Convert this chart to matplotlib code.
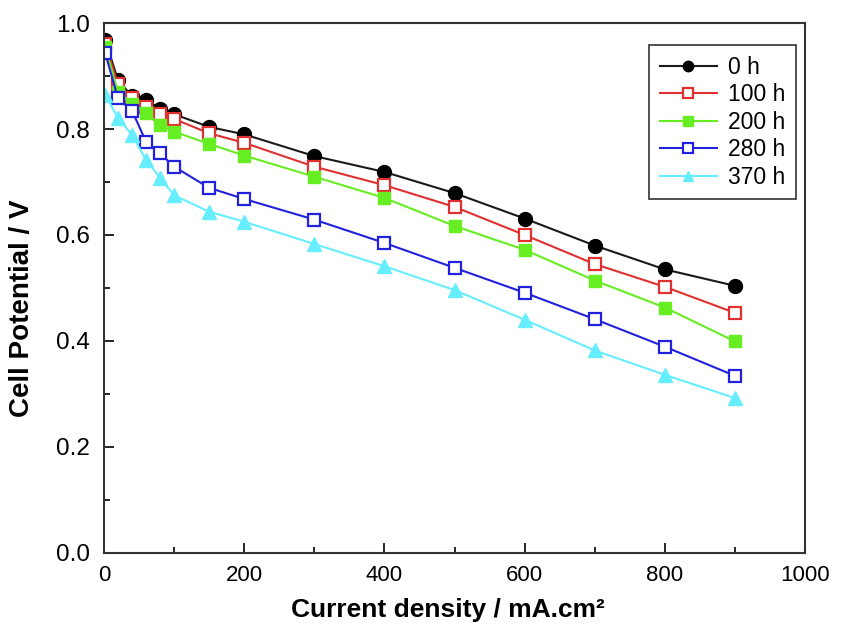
import matplotlib
matplotlib.use("Agg")
import matplotlib.pyplot as plt
from matplotlib.ticker import MultipleLocator

plt.rcParams['font.family'] = ['Liberation Sans', 'DejaVu Sans']

# current density (mA/cm2)
current = [2, 20, 40, 60, 80, 100, 150, 200, 300, 400, 500, 600, 700, 800, 900]

# cell potential (V) for each ageing time
v_0h = [0.968, 0.892, 0.862, 0.855, 0.838, 0.828, 0.804, 0.790, 0.749, 0.719, 0.679, 0.631, 0.580, 0.535, 0.504]
v_100h = [0.960, 0.885, 0.858, 0.842, 0.828, 0.819, 0.792, 0.774, 0.729, 0.694, 0.653, 0.600, 0.545, 0.502, 0.453]
v_200h = [0.955, 0.870, 0.848, 0.831, 0.808, 0.795, 0.772, 0.750, 0.710, 0.670, 0.617, 0.572, 0.514, 0.463, 0.399]
v_280h = [0.943, 0.858, 0.835, 0.776, 0.754, 0.729, 0.689, 0.668, 0.629, 0.585, 0.538, 0.491, 0.441, 0.389, 0.334]
v_370h = [0.864, 0.821, 0.789, 0.742, 0.708, 0.675, 0.644, 0.625, 0.583, 0.541, 0.496, 0.440, 0.382, 0.336, 0.292]

labels = ["0 h", "100 h", "200 h", "280 h", "370 h"]

fig = plt.figure(figsize=(8.45, 6.24), dpi=100)
ax = fig.add_axes([0.123, 0.114, 0.830, 0.849])

ax.plot(current, v_0h, color="#1a1a1a", marker="o", ms=10, mfc="black", mec="black", lw=1.5, label=labels[0])
ax.plot(current, v_100h, color="#e03030", marker="s", ms=9, mfc="white", mec="#e03030", mew=1.6, lw=1.5, label=labels[1])
ax.plot(current, v_200h, color="#66ee22", marker="s", ms=9, mfc="#66ee22", mec="#66ee22", lw=1.5, label=labels[2])
ax.plot(current, v_280h, color="#2222dd", marker="s", ms=9, mfc="white", mec="#2222dd", mew=1.6, lw=1.5, label=labels[3])
ax.plot(current, v_370h, color="#66eeff", marker="^", ms=10, mfc="#66eeff", mec="#66eeff", lw=1.5, label=labels[4])

ax.set_xlim(0, 1000)
ax.set_ylim(0.0, 1.0)
ax.xaxis.set_major_locator(MultipleLocator(200))
ax.xaxis.set_minor_locator(MultipleLocator(100))
ax.yaxis.set_major_locator(MultipleLocator(0.2))
ax.yaxis.set_minor_locator(MultipleLocator(0.1))
ax.yaxis.set_major_formatter(matplotlib.ticker.FormatStrFormatter("%.1f"))
ax.tick_params(which="both", direction="in", top=False, right=False)
ax.tick_params(axis="x", pad=9, labelsize=16)
ax.tick_params(axis="y", pad=10, labelsize=17.5)
ax.tick_params(which="major", length=7, width=1.2)
ax.tick_params(which="minor", length=4, width=1.2)
for s in ax.spines.values():
    s.set_linewidth(1.5)
    s.set_color("#333333")

ax.set_xlabel("Current density / mA.cm\u00b2", fontsize=19, fontweight="bold")
ax.set_ylabel("Cell Potential / V", fontsize=20, fontweight="bold")
ax.xaxis.set_label_coords(0.49, -0.085)
ax.yaxis.set_label_coords(-0.099, 0.462)

leg = ax.legend(loc="upper right", bbox_to_anchor=(0.987, 0.958), borderaxespad=0, fontsize=16.5,
                frameon=True, fancybox=False, edgecolor="black", handlelength=2.5, borderpad=0.45,
                labelspacing=0.2, markerscale=0.75, handletextpad=0.5)
leg.get_frame().set_linewidth(1.2)

fig.savefig("out.png", dpi=100)
